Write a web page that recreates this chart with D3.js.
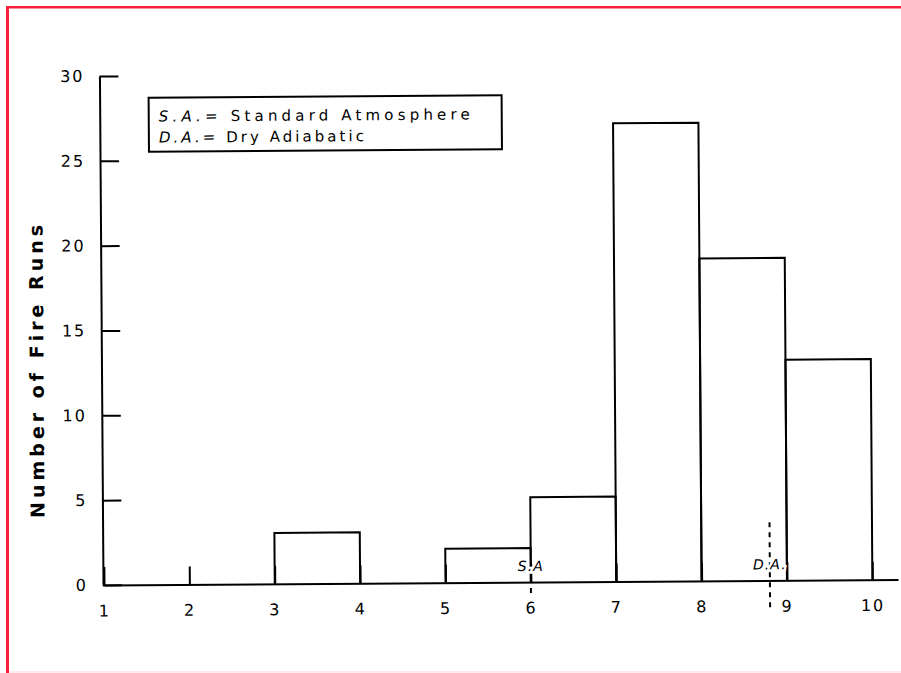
<!DOCTYPE html>
<html>
<head>
<meta charset="utf-8">
<script src="https://cdn.jsdelivr.net/npm/d3@7"></script>
<style>
  html, body { margin: 0; padding: 0; background: #fff; }
  svg { display: block; }
</style>
</head>
<body>
<svg id="chart"></svg>
<script>
// histogram data: bins of width 1 from 1 to 10
let binStarts = [1, 2, 3, 4, 5, 6, 7, 8, 9];
let runCounts = [0, 0, 3, 0, 2, 5, 27, 19, 13];

let xTickValues = [1, 2, 3, 4, 5, 6, 7, 8, 9, 10];
let yTickValues = [0, 5, 10, 15, 20, 25, 30];
let xAxisMax = 10.3;

let legendLines = ["S.A.= Standard Atmosphere", "D.A.= Dry Adiabatic"];
let markerLabels = ["S.A", "D.A."];
let markerValues = [6, 8.8];

let svgWidth = 901;
let svgHeight = 673;

let svg = d3.select('#chart')
            .attr('width', svgWidth)
            .attr('height', svgHeight);

// red frame around the scan (left + top, faint bottom)
svg.append('line')
    .attr('x1', 7.5).attr('y1', 6).attr('x2', 7.5).attr('y2', svgHeight)
    .attr('stroke', '#f8213f').attr('stroke-width', 3);
svg.append('line')
    .attr('x1', 6).attr('y1', 7.2).attr('x2', svgWidth).attr('y2', 7.2)
    .attr('stroke', '#f8213f').attr('stroke-width', 2.5);
svg.append('line')
    .attr('x1', 9).attr('y1', 672).attr('x2', svgWidth).attr('y2', 672)
    .attr('stroke', '#ffe4e8').attr('stroke-width', 1.5);

let x = d3.scaleLinear().domain([1, xAxisMax]).range([104, 898]);
let y = d3.scaleLinear().domain([0, 30]).range([585, 76]);

// the scanned page is tilted a little
let chart = svg.append('g')
            .attr('transform', 'rotate(-0.4, 104, 585)');

let fontFam = '"DejaVu Sans", sans-serif';

// Bars
let bins = binStarts.map((s, i) => ({start: s, end: s + 1, count: runCounts[i]}))
                    .filter(d => d.count > 0);

chart.selectAll('path.bar')
    .data(bins).enter()
    .append('path')
        .attr('class', 'bar')
        .attr('d', d => `M${x(d.start)},${y(0)}V${y(d.count)}H${x(d.end)}V${y(0)}`)
        .attr('fill', 'none')
        .attr('stroke', '#000')
        .attr('stroke-width', 2);

// Axes
let xAxis = chart.append('g')
            .attr('transform', `translate(0,${y(0)})`)
            .call(d3.axisBottom(x).tickValues(xTickValues).tickSize(-18).tickSizeOuter(0).tickPadding(20).tickFormat(d3.format('d')));

let yAxis = chart.append('g')
            .attr('transform', `translate(${x(1) - 1},0)`)
            .call(d3.axisLeft(y).tickValues(yTickValues).tickSize(-19).tickSizeOuter(0).tickPadding(15));

[xAxis, yAxis].forEach(function (ax) {
    ax.attr('font-family', null).attr('font-size', null);
    ax.selectAll('path, line').attr('stroke', '#000').attr('stroke-width', 2);
    ax.selectAll('text')
        .style('font-family', fontFam)
        .style('font-size', '16px')
        .style('letter-spacing', '2px')
        .attr('fill', '#000');
});

// Y axis title
chart.append('text')
    .attr('transform', 'translate(45,371) rotate(-90)')
    .attr('text-anchor', 'middle')
    .attr('textLength', 293)
    .attr('lengthAdjust', 'spacing')
    .style('font-family', fontFam)
    .style('font-size', '19px')
    .style('font-weight', 'bold')
    .text('Number of Fire Runs');

// Marker lines (S.A. and D.A.)
let markerExtents = [[591, 598], [527, 617]];

chart.selectAll('line.marker')
    .data(markerValues).enter()
    .append('line')
        .attr('class', 'marker')
        .attr('x1', d => x(d)).attr('x2', d => x(d))
        .attr('y1', (d, i) => markerExtents[i][0])
        .attr('y2', (d, i) => markerExtents[i][1])
        .attr('stroke', '#000')
        .attr('stroke-width', 2)
        .attr('stroke-dasharray', '5,5');

chart.selectAll('text.marker')
    .data(markerValues).enter()
    .append('text')
        .attr('class', 'marker')
        .attr('x', d => x(d))
        .attr('y', 574)
        .attr('text-anchor', 'middle')
        .style('font-family', fontFam)
        .style('font-size', '14px')
        .style('font-style', 'italic')
        .style('letter-spacing', '1px')
        .attr('stroke', '#fff')
        .attr('stroke-width', 5)
        .attr('paint-order', 'stroke')
        .attr('fill', '#000')
        .text((d, i) => markerLabels[i]);

// Legend box
let legend = chart.append('g');

legend.append('rect')
    .attr('x', 152).attr('y', 98)
    .attr('width', 353).attr('height', 54)
    .attr('fill', 'none')
    .attr('stroke', '#000')
    .attr('stroke-width', 2);

let legendWidths = [311, 205];

legend.selectAll('text')
    .data(legendLines).enter()
    .append('text')
        .attr('x', 162)
        .attr('y', (d, i) => 122 + i * 21)
        .attr('textLength', (d, i) => legendWidths[i])
        .attr('lengthAdjust', 'spacing')
        .style('font-family', fontFam)
        .style('font-size', '15px')
        .attr('fill', '#000')
        .each(function (d) {
            let t = d3.select(this);
            let parts = d.split('=');
            t.append('tspan').style('font-style', 'italic').text(parts[0]);
            t.append('tspan').text('=' + parts[1]);
        });
</script>
</body>
</html>
